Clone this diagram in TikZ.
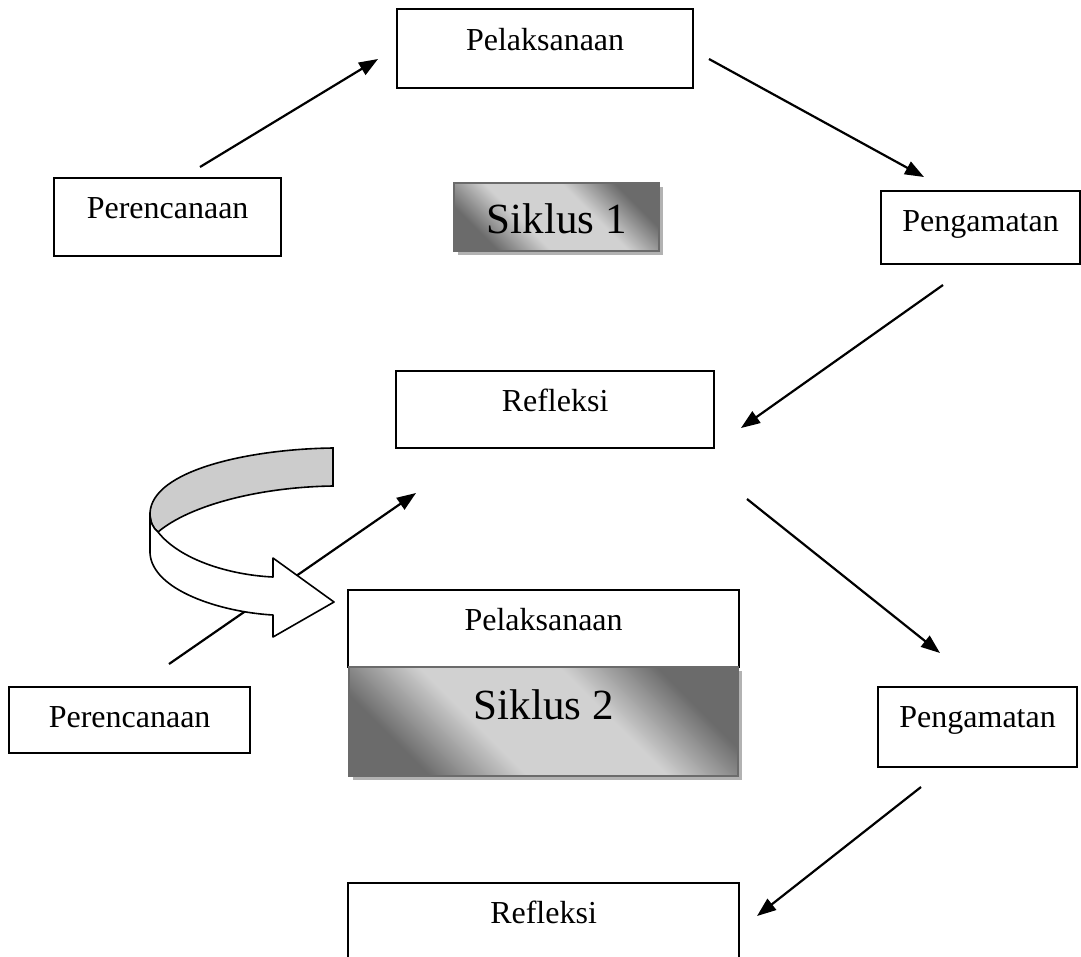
\documentclass[tikz,border=0pt]{standalone}
\usepackage{fontspec}
\setmainfont{Liberation Serif}
\usetikzlibrary{arrows.meta,shadows}

\pgfdeclareverticalshading{siklusshade}{100bp}{color(0bp)=(black!58); color(26bp)=(black!58);
	color(40bp)=(black!18); color(60bp)=(black!18); color(74bp)=(black!58); color(100bp)=(black!58)}

\begin{document}
\begin{tikzpicture}[x=1pt,y=-1pt,
		box/.style={draw,line width=2.2pt,inner sep=0pt,anchor=north west,fill=white,font=\fontsize{32}{32}\selectfont},
		siklus/.style={draw=black!58,line width=2.2pt,inner sep=0pt,anchor=north west,
			shading=siklusshade,shading angle=-45,
			drop shadow={shadow xshift=4pt,shadow yshift=-4pt,fill=black!30,opacity=1},
			font=\fontsize{43}{43}\selectfont},
		arr/.style={line width=2.2pt,-{Triangle[length=19pt,width=14pt]}}]
		\useasboundingbox (0,0) rectangle (1081,956);
		\clip (0,0) rectangle (1081,956);

		% siklus 1
		\node[box,minimum width=296pt,text height=41pt,text depth=38pt] (pel1) at (396,8) {Pelaksanaan};
		\node[box,minimum width=227pt,text height=40pt,text depth=38pt] (per1) at (53,177) {Perencanaan};
		\node[siklus,minimum width=205pt,text height=50pt,text depth=18pt] (sik1) at (453,182) {Siklus 1};
		\node[box,minimum width=199pt,text height=40pt,text depth=33pt] (pen1) at (880,190) {Pengamatan};
		\node[box,minimum width=318pt,text height=40pt,text depth=37pt] (ref1) at (395,370) {Refleksi};

		\coordinate (a1s) at (200,167);
		\coordinate (a1e) at (378,59);
		\coordinate (a2s) at (709,59);
		\coordinate (a2e) at (924,177);
		\coordinate (a3s) at (943,285);
		\coordinate (a3e) at (741,428);
		\draw[arr] (a1s) -- (a1e);
		\draw[arr] (a2s) -- (a2e);
		\draw[arr] (a3s) -- (a3e);

		% siklus 2
		\coordinate (a4s) at (747,499);
		\coordinate (a4e) at (940,653);
		\coordinate (a5s) at (169,664);
		\coordinate (a5e) at (416,493);
		\coordinate (a6s) at (921,787);
		\coordinate (a6e) at (757,916);
		\draw[arr] (a4s) -- (a4e);
		\draw[arr] (a5s) -- (a5e);
		\draw[arr] (a6s) -- (a6e);

		\node[box,minimum width=391pt,text height=40pt,text depth=37pt] (pel2) at (347,589) {Pelaksanaan};
		\node[siklus,minimum width=389pt,text height=52pt,text depth=57pt] (sik2) at (348,666) {Siklus 2};
		\node[box,minimum width=241pt,text height=40pt,text depth=26pt] (per2) at (8,686) {Perencanaan};
		\node[box,minimum width=199pt,text height=40pt,text depth=40pt] (pen2) at (877,686) {Pengamatan};
		\node[box,minimum width=391pt,text height=40pt,text depth=70pt] (ref2) at (347,882) {Refleksi};

		% curved arrow
		\draw[line width=1.6pt,fill=black!20] (333,448) .. controls (250,449) and (152,470) .. (150,513)
			.. controls (150,522) and (153,528) .. (158,532)
			.. controls (190,505) and (260,487) .. (333,486) -- cycle;
		\draw[line width=1.6pt,fill=white,line join=round] (150,513) -- (150,553)
			.. controls (152,590) and (220,612) .. (273,615)
			-- (273,637) -- (334,602) -- (273,558) -- (273,577)
			.. controls (230,575) and (180,560) .. (158,532)
			.. controls (153,528) and (150,522) .. (150,513) -- cycle;
	\end{tikzpicture}
\end{document}
